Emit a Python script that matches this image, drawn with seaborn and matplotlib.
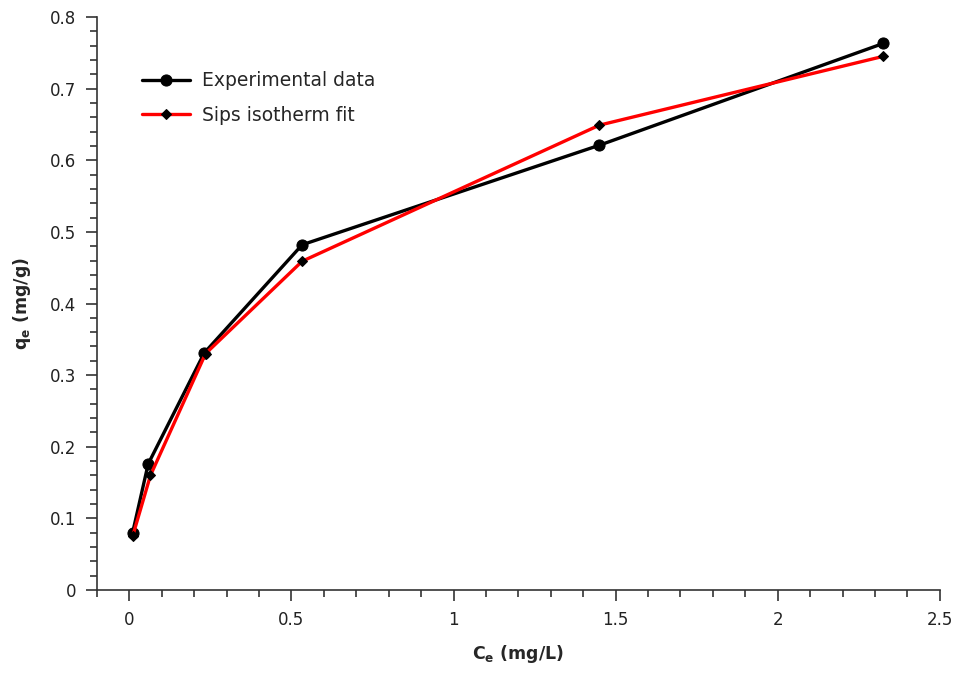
import matplotlib
matplotlib.use("Agg")
import matplotlib.pyplot as plt
import seaborn as sns
import pandas as pd
from matplotlib.ticker import MultipleLocator

ce_exp = [0.01, 0.058, 0.231, 0.533, 1.45, 2.325]
qe_exp = [0.080, 0.176, 0.331, 0.482, 0.621, 0.763]
ce_sips = [0.01, 0.065, 0.235, 0.533, 1.45, 2.325]
qe_sips = [0.075, 0.160, 0.330, 0.459, 0.649, 0.745]

sns.set_theme(style="ticks")
plt.rcParams['font.family'] = ['DejaVu Sans']

fig = plt.figure(figsize=(9.6, 6.74), dpi=100)
ax = fig.add_axes([0.101, 0.1246, 0.878, 0.8502])

df_exp = pd.DataFrame({"Ce": ce_exp, "qe": qe_exp})
df_sips = pd.DataFrame({"Ce": ce_sips, "qe": qe_sips})

sns.lineplot(data=df_exp, x="Ce", y="qe", ax=ax, sort=False, color="black",
             linewidth=2.4, marker="o", markersize=8, markeredgecolor="black",
             markerfacecolor="black", label="Experimental data", zorder=2)
sns.lineplot(data=df_sips, x="Ce", y="qe", ax=ax, sort=False, color="#ff0000",
             linewidth=2.4, marker="D", markersize=5.5, markeredgecolor="black",
             markerfacecolor="black", label="Sips isotherm fit", zorder=3)

ax.set_xlim(-0.1, 2.5)
ax.set_ylim(0, 0.8)
ax.xaxis.set_minor_locator(MultipleLocator(0.1))
ax.yaxis.set_minor_locator(MultipleLocator(0.02))
ax.set_xticks([0, 0.5, 1, 1.5, 2, 2.5])
ax.set_xticklabels(["0", "0.5", "1", "1.5", "2", "2.5"])
ax.set_yticks([0, 0.1, 0.2, 0.3, 0.4, 0.5, 0.6, 0.7, 0.8])
ax.set_yticklabels(["0", "0.1", "0.2", "0.3", "0.4", "0.5", "0.6", "0.7", "0.8"])

for s in ["top", "right"]:
    ax.spines[s].set_visible(False)
for s in ["left", "bottom"]:
    ax.spines[s].set_color("#333333")
    ax.spines[s].set_linewidth(1.2)

ax.tick_params(which="major", direction="out", length=8, width=1.2, color="#333333",
               labelsize=12, labelcolor="#222222", pad=7)
ax.tick_params(which="minor", direction="out", length=5, width=1.2, color="#333333")

ax.set_xlabel(r"$\mathbf{C_e}$ (mg/L)", fontsize=12.5, fontweight="bold", labelpad=10)
ax.set_ylabel(r"$\mathbf{q_e}$ (mg/g)", fontsize=12.5, fontweight="bold", labelpad=12)

leg = ax.legend(loc="upper left", bbox_to_anchor=(0.033, 0.935), frameon=False,
                fontsize=13.5, handlelength=2.6, labelspacing=0.85, handletextpad=0.6)

fig.savefig("out.png", dpi=100)
